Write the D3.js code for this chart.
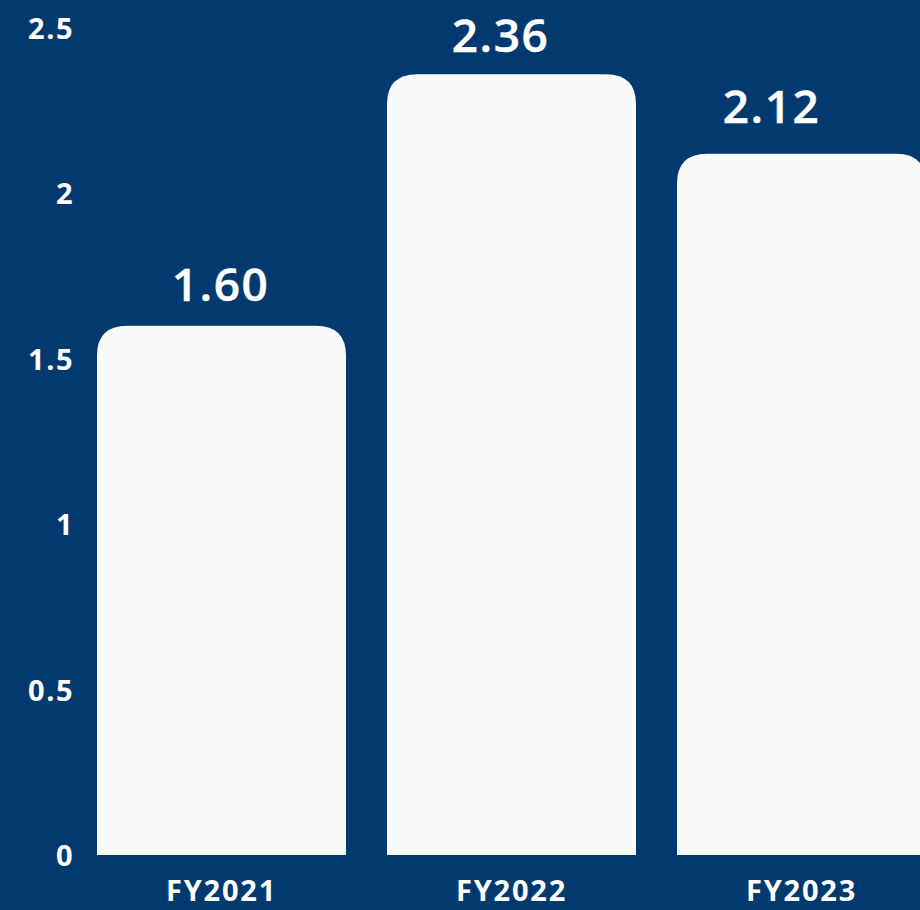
<!DOCTYPE html>
<html>
<head>
<meta charset="utf-8">
<script src="https://cdn.jsdelivr.net/npm/d3@7"></script>
<style>
  html, body { margin: 0; padding: 0; background: #023a70; }
  svg { display: block; }
</style>
</head>
<body>
<svg id="chart" width="920" height="910"></svg>
<script>
// Fiscal-year values
const categories = ["FY2021", "FY2022", "FY2023"];
const values = [1.60, 2.36, 2.12];
const valueLabels = ["1.60", "2.36", "2.12"];
const tickValues = [0, 0.5, 1, 1.5, 2, 2.5];
const tickLabels = ["0", "0.5", "1", "1.5", "2", "2.5"];

// Layout
const W = 920, H = 910;
const BG = "#023a70", BAR = "#f8fbfa", TEXT = "#ffffff";
const FONT = "'Open Sans', Lato, sans-serif";
// hand-placed offsets for the value labels [dx, dy] from the bar-top default
const labelShift = [[-1, 0], [-11, 3], [-30, -6]];

const svg = d3.select("#chart");
svg.append("rect").attr("width", W).attr("height", H).attr("fill", BG);

const y = d3.scaleLinear().domain([0, 2.5]).range([855, 28]);
const x = d3.scaleBand()
  .domain(categories)
  .range([56, 967])
  .paddingInner(0.1414)
  .paddingOuter(0.1414);

// Bar path with rounded top corners only
function barPath(x0, y0, w, h, r) {
  r = Math.min(r, w / 2, h);
  return `M${x0},${y0 + h}` +
    `V${y0 + r}` +
    `Q${x0},${y0} ${x0 + r},${y0}` +
    `H${x0 + w - r}` +
    `Q${x0 + w},${y0} ${x0 + w},${y0 + r}` +
    `V${y0 + h}Z`;
}

const data = categories.map((c, i) => ({ c, v: values[i], label: valueLabels[i], shift: labelShift[i] }));

svg.append("g").selectAll("path")
  .data(data)
  .join("path")
  .attr("fill", BAR)
  .attr("d", d => barPath(x(d.c), y(d.v), x.bandwidth(), y(0) - y(d.v), 30));

// Value labels above bars (thin stroke gives a semibold weight)
svg.append("g").selectAll("text")
  .data(data)
  .join("text")
  .attr("x", d => x(d.c) + x.bandwidth() / 2 + d.shift[0])
  .attr("y", d => y(d.v) - 25 + d.shift[1])
  .attr("text-anchor", "middle")
  .attr("fill", TEXT)
  .attr("stroke", TEXT)
  .attr("stroke-width", 0.45)
  .attr("font-family", FONT)
  .attr("font-weight", 600)
  .attr("font-size", 46)
  .attr("letter-spacing", 1.5)
  .text(d => d.label);

// Y axis: labels only
const yAxis = d3.axisLeft(y)
  .tickValues(tickValues)
  .tickFormat((d, i) => tickLabels[i])
  .tickSize(0)
  .tickPadding(0);
const gy = svg.append("g").attr("transform", "translate(74,0)").call(yAxis);
gy.select(".domain").remove();
gy.selectAll("text")
  .attr("fill", TEXT)
  .attr("font-family", FONT)
  .attr("font-weight", 700)
  .attr("font-size", 29)
  .attr("letter-spacing", 1.5)
  .attr("dy", "0.36em");

// X axis: category labels
const xAxis = d3.axisBottom(x).tickSize(0).tickPadding(0);
const gx = svg.append("g").attr("transform", "translate(0,880)").call(xAxis);
gx.select(".domain").remove();
gx.selectAll("text")
  .attr("fill", TEXT)
  .attr("font-family", FONT)
  .attr("font-weight", 700)
  .attr("font-size", 29)
  .attr("letter-spacing", 1.8)
  .attr("dy", "0.74em");
</script>
</body>
</html>
